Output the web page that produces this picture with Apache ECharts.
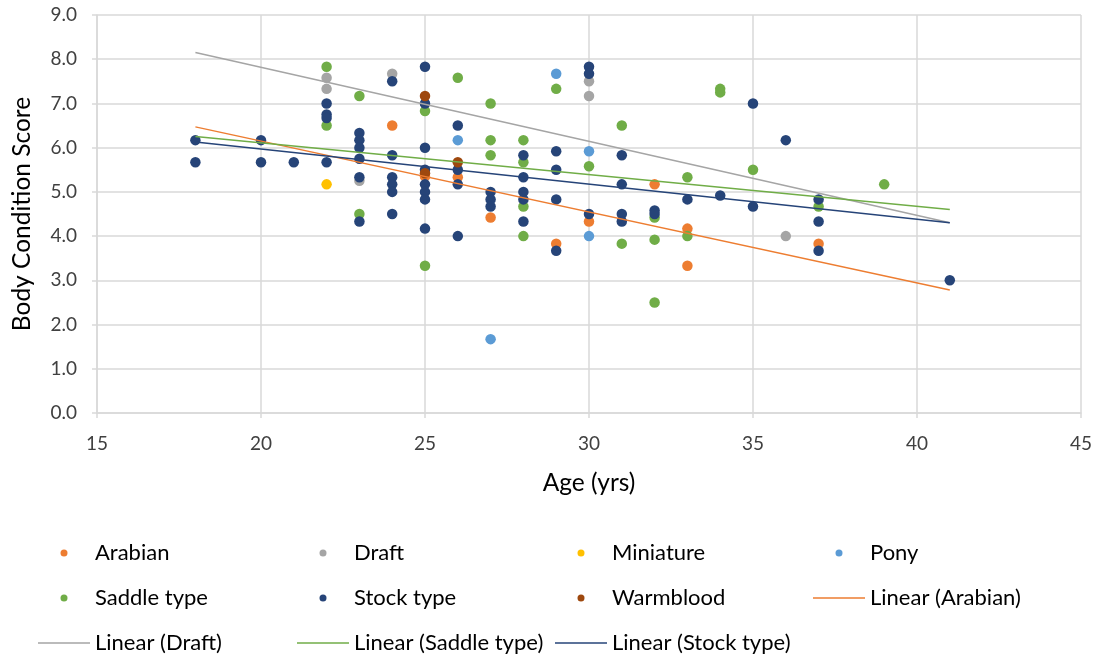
<!DOCTYPE html>
<html>
<head>
<meta charset="utf-8">
<script src="https://cdn.jsdelivr.net/npm/echarts@6/dist/echarts.min.js"></script>
<style>
  html, body { margin: 0; padding: 0; background: #fff; }
  #chart { width: 1102px; height: 660px; }
</style>
</head>
<body>
<div id="chart"></div>
<script>
// ---- Data: [age (yrs), body condition score] ----
const arabian = [[24,6.5],[25,5.35],[26,5.33],[27,4.42],[29,3.83],[30,4.33],[32,5.17],[33,4.17],[33,3.33],[37,3.83]];
const draft = [[22,7.58],[22,7.33],[23,5.25],[24,7.67],[30,7.5],[30,7.17],[36,4.0]];
const miniature = [[22,5.17]];
const pony = [[26,6.17],[27,1.67],[29,7.67],[30,5.92],[30,4.0]];
const saddleType = [[22,7.83],[22,6.5],[23,7.17],[23,4.5],[25,6.83],[25,3.33],[26,7.58],[27,7.0],[27,6.17],[27,5.83],
  [28,6.17],[28,5.67],[28,4.67],[28,4.0],[29,7.33],[30,5.58],[31,6.5],[31,3.83],[32,4.42],[32,3.92],[32,2.5],
  [33,5.33],[33,4.0],[34,7.33],[34,7.25],[35,5.5],[37,4.67],[39,5.17]];
const stockType = [[18,6.17],[18,5.67],[20,6.17],[20,5.67],[21,5.67],[22,7.0],[22,6.75],[22,6.67],[22,5.67],
  [23,6.33],[23,6.17],[23,6.0],[23,5.75],[23,5.33],[23,4.33],[24,7.5],[24,5.83],[24,5.33],[24,5.17],[24,5.0],[24,4.5],
  [25,7.83],[25,7.0],[25,6.0],[25,5.5],[25,5.17],[25,5.0],[25,4.83],[25,4.17],[26,6.5],[26,5.5],[26,5.17],[26,4.0],
  [27,5.0],[27,4.83],[27,4.67],[28,5.83],[28,5.33],[28,5.0],[28,4.83],[28,4.33],[29,5.92],[29,5.5],[29,4.83],[29,3.67],
  [30,7.83],[30,7.67],[30,4.5],[31,5.83],[31,5.17],[31,4.5],[31,4.33],[32,4.58],[32,4.5],[33,4.83],[34,4.92],
  [35,7.0],[35,4.67],[36,6.17],[37,4.83],[37,4.33],[37,3.67],[41,3.0]];
const warmblood = [[25,7.17],[25,5.42],[26,5.67]];

// Trendline end points
const trendArabian = [[18,6.47],[41,2.78]];
const trendDraft = [[18,8.15],[41,4.30]];
const trendSaddle = [[18,6.25],[41,4.60]];
const trendStock = [[18,6.13],[41,4.30]];

const xTicks = { min: 15, max: 45, interval: 5 };
const yTicks = { min: 0, max: 9, interval: 1 };

const colors = {
  'Arabian': '#ED7D31', 'Draft': '#A5A5A5', 'Miniature': '#FFC000', 'Pony': '#5B9BD5',
  'Saddle type': '#70AD47', 'Stock type': '#264478', 'Warmblood': '#9E480E'
};

const FONT = 'Lato';

function scatter(name, data) {
  return { name, type: 'scatter', data, symbol: 'circle', symbolSize: 10.5, z: 2,
    itemStyle: { color: colors[name], opacity: 1 }, emphasis: { disabled: true } };
}
function trend(name, base, data) {
  return { name, type: 'line', data, symbol: 'none', z: 5, silent: true,
    lineStyle: { color: colors[base], width: 1.5 }, itemStyle: { color: colors[base] } };
}

// Legend layout (grid of 4 columns x 3 rows like the reference)
const ICON_DOT = 'path://M0,0L0,0M52,7L52,7M22.5,3.5A3.5,3.5,0,1,1,29.5,3.5A3.5,3.5,0,1,1,22.5,3.5Z';
const ICON_LINE = 'path://M0,0L0,0M52,7L52,7M0,2.75L52,2.75L52,4.25L0,4.25Z';
const colLeft = [38, 297, 555, 813];
const rowMid = [553, 598, 643];
const legendItems = [
  ['Arabian', 0, 0, ICON_DOT], ['Draft', 1, 0, ICON_DOT], ['Miniature', 2, 0, ICON_DOT], ['Pony', 3, 0, ICON_DOT],
  ['Saddle type', 0, 1, ICON_DOT], ['Stock type', 1, 1, ICON_DOT], ['Warmblood', 2, 1, ICON_DOT],
  ['Linear (Arabian)', 3, 1, ICON_LINE],
  ['Linear (Draft)', 0, 2, ICON_LINE], ['Linear (Saddle type)', 1, 2, ICON_LINE], ['Linear (Stock type)', 2, 2, ICON_LINE]
];
const legends = legendItems.map(([name, c, r, icon]) => ({
  left: colLeft[c], top: rowMid[r] - 12, padding: 0, itemGap: 0,
  itemWidth: 52, itemHeight: 7, selectedMode: false,
  textStyle: { fontFamily: FONT, fontSize: 22, color: '#000', lineHeight: 24 },
  data: [{ name, icon }]
}));

const chart = echarts.init(document.getElementById('chart'), null, { renderer: 'canvas' });
chart.setOption({
  animation: false,
  grid: { left: 97, right: 21, top: 15, bottom: 247 },
  xAxis: {
    type: 'value', min: xTicks.min, max: xTicks.max, interval: xTicks.interval,
    name: 'Age (yrs)', nameLocation: 'middle', nameGap: 58,
    nameTextStyle: { fontFamily: FONT, fontSize: 24.5, color: '#000' },
    axisLine: { show: true, lineStyle: { color: '#D9D9D9', width: 1.5 } },
    axisTick: { show: true, length: 5, lineStyle: { color: '#D9D9D9', width: 1.5 } },
    axisLabel: { fontFamily: FONT, fontSize: 19, color: '#404040', margin: 21 },
    splitLine: { show: true, lineStyle: { color: '#D9D9D9', width: 1.5 } }
  },
  yAxis: {
    type: 'value', min: yTicks.min, max: yTicks.max, interval: yTicks.interval,
    name: 'Body Condition Score', nameLocation: 'middle', nameGap: 62,
    nameTextStyle: { fontFamily: FONT, fontSize: 24.5, color: '#000' },
    axisLine: { show: true, lineStyle: { color: '#D9D9D9', width: 1.5 } },
    axisTick: { show: true, length: 5, lineStyle: { color: '#D9D9D9', width: 1.5 } },
    axisLabel: { fontFamily: FONT, fontSize: 19, color: '#404040', margin: 20,
      formatter: v => v.toFixed(1) },
    splitLine: { show: true, lineStyle: { color: '#D9D9D9', width: 1.5 } }
  },
  legend: legends,
  series: [
    scatter('Arabian', arabian),
    scatter('Draft', draft),
    scatter('Miniature', miniature),
    scatter('Pony', pony),
    scatter('Saddle type', saddleType),
    scatter('Stock type', stockType),
    scatter('Warmblood', warmblood),
    trend('Linear (Arabian)', 'Arabian', trendArabian),
    trend('Linear (Draft)', 'Draft', trendDraft),
    trend('Linear (Saddle type)', 'Saddle type', trendSaddle),
    trend('Linear (Stock type)', 'Stock type', trendStock)
  ]
});
</script>
</body>
</html>
